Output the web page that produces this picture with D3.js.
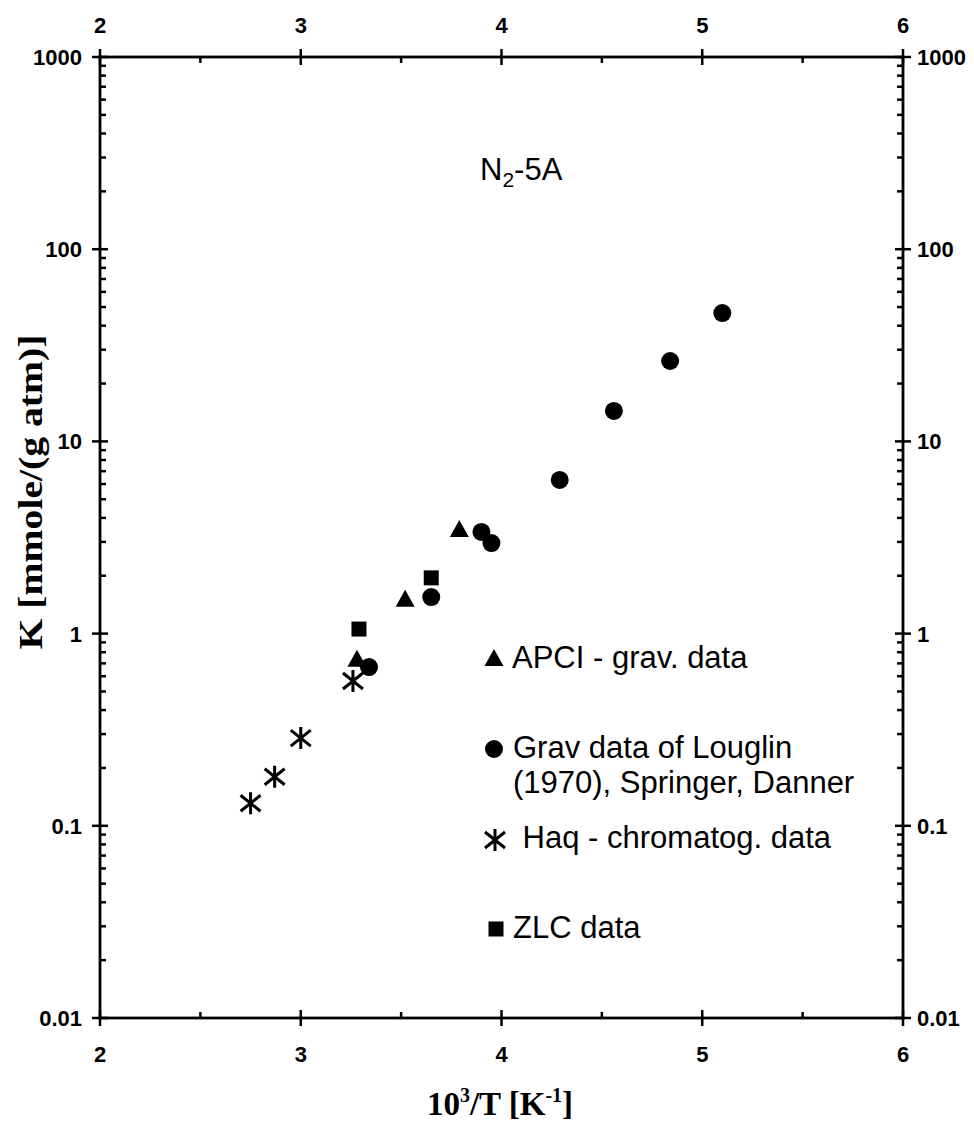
<!DOCTYPE html>
<html lang="en">
<head>
    <meta charset="UTF-8">
    <title>N2-5A</title>
    <style>
        body {
            margin: 0;
            padding: 0;
            background-color: #ffffff;
        }
        svg text {
            fill: #000;
        }
        .tick-label {
            font-family: 'Liberation Sans', Arial, sans-serif;
            font-size: 22px;
            font-weight: bold;
        }
        .legend text {
            font-family: 'Liberation Sans', Arial, sans-serif;
            font-size: 31px;
        }
        .axis-title {
            font-family: 'Liberation Serif', 'Times New Roman', serif;
            font-size: 33px;
            font-weight: bold;
        }
    </style>
</head>
<body>
    <div id="chart"></div>

    <script src="https://d3js.org/d3.v7.min.js"></script>
    <script>
        const width = 974;
        const height = 1122;

        // data (10^3/T, K)
        const apciX = [3.28, 3.52, 3.79];
        const apciY = [0.73, 1.50, 3.46];
        const gravX = [3.34, 3.65, 3.90, 3.95, 4.29, 4.56, 4.84, 5.10];
        const gravY = [0.67, 1.55, 3.38, 2.96, 6.3, 14.4, 26.2, 46.5];
        const haqX = [2.75, 2.87, 3.00, 3.26];
        const haqY = [0.131, 0.18, 0.286, 0.567];
        const zlcX = [3.29, 3.65];
        const zlcY = [1.056, 1.95];

        const xTicks = [2, 3, 4, 5, 6];
        const xMinor = [2.5, 3.5, 4.5, 5.5];
        const yTicks = [0.01, 0.1, 1, 10, 100, 1000];
        const yTickLabels = ['0.01', '0.1', '1', '10', '100', '1000'];

        const legendLabels = [
            ['APCI - grav. data'],
            ['Grav data of Louglin', '(1970), Springer, Danner'],
            [' Haq - chromatog. data'],
            ['ZLC data']
        ];

        const pLeft = 100, pRight = 903, pTop = 57, pBottom = 1018;

        const x = d3.scaleLinear().domain([2, 6]).range([pLeft, pRight]);
        const y = d3.scaleLog().domain([0.01, 1000]).range([pBottom, pTop]);

        const svg = d3.select('#chart')
            .append('svg')
            .attr('width', width)
            .attr('height', height);

        // minor log ticks
        const yMinor = [];
        for (let d = 0.01; d < 1000; d *= 10) {
            for (let k = 2; k <= 9; k++) yMinor.push(+(d * k).toPrecision(3));
        }

        // frame
        svg.append('rect')
            .attr('x', pLeft).attr('y', pTop)
            .attr('width', pRight - pLeft).attr('height', pBottom - pTop)
            .attr('fill', 'none')
            .attr('stroke', '#000')
            .attr('stroke-width', 2.8);

        const ticks = svg.append('g').attr('stroke', '#000').attr('stroke-width', 2.5);

        // major ticks cross the frame
        xTicks.forEach(v => {
            ticks.append('line').attr('x1', x(v)).attr('x2', x(v)).attr('y1', pBottom - 8).attr('y2', pBottom + 8);
            ticks.append('line').attr('x1', x(v)).attr('x2', x(v)).attr('y1', pTop - 8).attr('y2', pTop + 8);
        });
        xMinor.forEach(v => {
            ticks.append('line').attr('x1', x(v)).attr('x2', x(v)).attr('y1', pBottom).attr('y2', pBottom - 6);
            ticks.append('line').attr('x1', x(v)).attr('x2', x(v)).attr('y1', pTop).attr('y2', pTop + 6);
        });
        yTicks.forEach(v => {
            ticks.append('line').attr('x1', pLeft - 8).attr('x2', pLeft + 8).attr('y1', y(v)).attr('y2', y(v));
            ticks.append('line').attr('x1', pRight - 8).attr('x2', pRight + 8).attr('y1', y(v)).attr('y2', y(v));
        });
        yMinor.forEach(v => {
            ticks.append('line').attr('x1', pLeft).attr('x2', pLeft + 6).attr('y1', y(v)).attr('y2', y(v));
            ticks.append('line').attr('x1', pRight).attr('x2', pRight - 6).attr('y1', y(v)).attr('y2', y(v));
        });

        // tick labels
        svg.selectAll('.xb').data(xTicks).enter().append('text')
            .attr('class', 'tick-label')
            .attr('x', d => x(d)).attr('y', pBottom + 44)
            .attr('text-anchor', 'middle')
            .text(d => d);
        svg.selectAll('.xt').data(xTicks).enter().append('text')
            .attr('class', 'tick-label')
            .attr('x', d => x(d)).attr('y', pTop - 24)
            .attr('text-anchor', 'middle')
            .text(d => d);
        svg.selectAll('.yl').data(yTicks).enter().append('text')
            .attr('class', 'tick-label')
            .attr('x', pLeft - 18).attr('y', d => y(d) + 8)
            .attr('text-anchor', 'end')
            .text((d, i) => yTickLabels[i]);
        svg.selectAll('.yr').data(yTicks).enter().append('text')
            .attr('class', 'tick-label')
            .attr('x', pRight + 14).attr('y', d => y(d) + 8)
            .attr('text-anchor', 'start')
            .text((d, i) => yTickLabels[i]);

        // axis titles
        const xt = svg.append('text')
            .attr('class', 'axis-title')
            .attr('x', 500).attr('y', 1115)
            .attr('text-anchor', 'middle');
        xt.append('tspan').text('10');
        xt.append('tspan').attr('dy', -13).style('font-size', '20px').text('3');
        xt.append('tspan').attr('dy', 13).text('/T [K');
        xt.append('tspan').attr('dy', -13).style('font-size', '20px').text('-1');
        xt.append('tspan').attr('dy', 13).text(']');

        svg.append('text')
            .attr('class', 'axis-title')
            .attr('transform', `translate(42, 492) rotate(-90)`)
            .attr('text-anchor', 'middle')
            .attr('textLength', 315)
            .attr('lengthAdjust', 'spacingAndGlyphs')
            .text('K [mmole/(g atm)]');

        // panel label
        const lbl = svg.append('text')
            .attr('x', 480).attr('y', 180)
            .style('font-family', "'Liberation Sans', Arial, sans-serif")
            .style('font-size', '31px');
        lbl.append('tspan').text('N');
        lbl.append('tspan').attr('dy', 7).style('font-size', '21px').text('2');
        lbl.append('tspan').attr('dy', -7).text('-5A');

        // marker shapes
        const tri = (cx, cy) => `M${cx},${cy - 10}L${cx + 9.5},${cy + 7}L${cx - 9.5},${cy + 7}Z`;
        const sq = (cx, cy) => `M${cx - 7.5},${cy - 7.5}h15v15h-15Z`;
        const star = (cx, cy) => `M${cx},${cy - 11}V${cy + 11}M${cx - 10},${cy - 8}L${cx + 10},${cy + 8}M${cx + 10},${cy - 8}L${cx - 10},${cy + 8}`;

        const pts = svg.append('g');

        pts.selectAll('.haq').data(haqX).enter().append('path')
            .attr('d', (d, i) => star(x(d), y(haqY[i])))
            .attr('fill', 'none').attr('stroke', '#000').attr('stroke-width', 3);

        pts.selectAll('.apci').data(apciX).enter().append('path')
            .attr('d', (d, i) => tri(x(d), y(apciY[i])))
            .attr('fill', '#000');

        pts.selectAll('.zlc').data(zlcX).enter().append('path')
            .attr('d', (d, i) => sq(x(d), y(zlcY[i])))
            .attr('fill', '#000');

        pts.selectAll('.grav').data(gravX).enter().append('circle')
            .attr('cx', d => x(d)).attr('cy', (d, i) => y(gravY[i]))
            .attr('r', 9)
            .attr('fill', '#000');

        // legend
        const legend = svg.append('g').attr('class', 'legend');
        legend.append('path').attr('d', tri(494, 659)).attr('fill', '#000');
        legend.append('text').attr('x', 512).attr('y', 668).text(legendLabels[0][0]);

        legend.append('circle').attr('cx', 494).attr('cy', 749).attr('r', 9).attr('fill', '#000');
        legend.append('text').attr('x', 513).attr('y', 758).text(legendLabels[1][0]);
        legend.append('text').attr('x', 513).attr('y', 793).text(legendLabels[1][1]);

        legend.append('path').attr('d', star(495, 840))
            .attr('fill', 'none').attr('stroke', '#000').attr('stroke-width', 3);
        legend.append('text').attr('x', 514).attr('y', 848).style('white-space', 'pre').text(legendLabels[2][0]);

        legend.append('path').attr('d', sq(496, 929)).attr('fill', '#000');
        legend.append('text').attr('x', 513).attr('y', 938).text(legendLabels[3][0]);
    </script>
</body>
</html>
